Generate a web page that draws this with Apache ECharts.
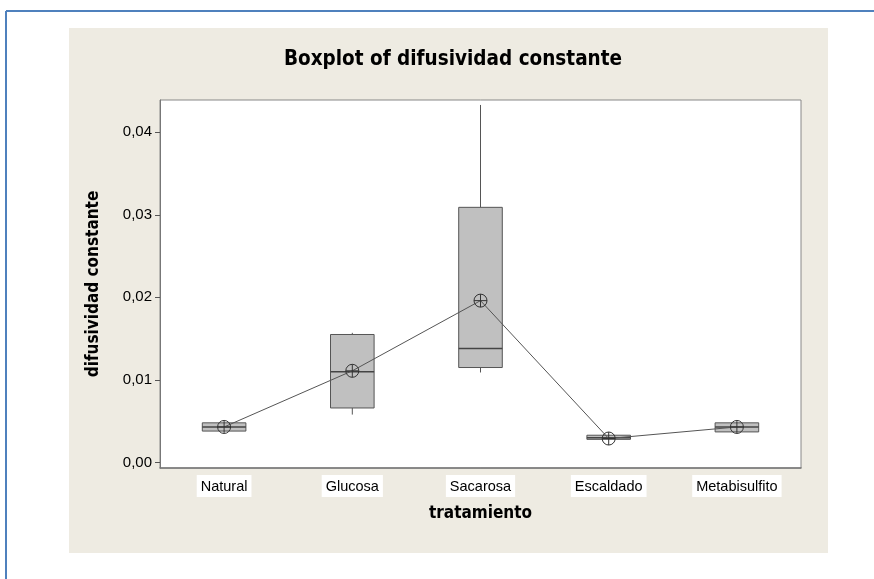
<!DOCTYPE html>
<html>
<head>
<meta charset="utf-8">
<script src="https://cdn.jsdelivr.net/npm/echarts@6/dist/echarts.min.js"></script>
<style>
html,body{margin:0;padding:0;background:#fff;}
#c{width:874px;height:579px;}
</style>
</head>
<body>
<div id="c"></div>
<script>
var categories = ['Natural', 'Glucosa', 'Sacarosa', 'Escaldado', 'Metabisulfito'];
var whiskerLow  = [0.0038, 0.0058, 0.0109, 0.0028, 0.0037];
var q1          = [0.0038, 0.0066, 0.0115, 0.0028, 0.0037];
var medians     = [0.0043, 0.0110, 0.0138, 0.0030, 0.0043];
var q3          = [0.0048, 0.0155, 0.0309, 0.0033, 0.0048];
var whiskerHigh = [0.0048, 0.0157, 0.0433, 0.0033, 0.0048];
var means       = [0.0043, 0.0111, 0.0196, 0.0029, 0.0043];
var yTicks      = [0, 0.01, 0.02, 0.03, 0.04];

var boxData = categories.map(function (c, i) {
  return [i, whiskerLow[i], q1[i], medians[i], q3[i], whiskerHigh[i]];
});

var chart = echarts.init(document.getElementById('c'));
var fmt = function (v) { return v.toFixed(2).replace('.', ','); };
var lineCol = '#555';
var condFont = '"Liberation Sans Narrow", "DejaVu Sans Condensed", sans-serif';

chart.setOption({
  animation: false,
  backgroundColor: '#ffffff',
  graphic: [
    { type: 'rect', z: -10, shape: { x: 69, y: 28, width: 759, height: 525 }, style: { fill: '#EEEBE2' } },
    { type: 'line', z: 10, shape: { x1: 6, y1: 11, x2: 874, y2: 11 }, style: { stroke: '#4F81BD', lineWidth: 2 } },
    { type: 'line', z: 10, shape: { x1: 6, y1: 11, x2: 6, y2: 579 }, style: { stroke: '#4F81BD', lineWidth: 2 } },
    { type: 'text', z: 10, x: 453, y: 60, style: { text: 'Boxplot of difusividad constante', fill: '#000', font: 'bold 20.5px ' + condFont, align: 'center', verticalAlign: 'middle' } }
  ],
  grid: { left: 160, right: 874 - 801, top: 100, bottom: 579 - 468, show: true, backgroundColor: '#fff', borderColor: '#888', borderWidth: 1 },
  xAxis: {
    type: 'category',
    data: categories,
    name: 'tratamiento',
    nameLocation: 'middle',
    nameGap: 37,
    nameTextStyle: { fontFamily: condFont, fontWeight: 'bold', fontSize: 17, color: '#000' },
    axisLine: { onZero: false, lineStyle: { color: '#777', width: 1.5 } },
    axisTick: { alignWithLabel: true, length: 5, lineStyle: { color: '#555' } },
    axisLabel: { color: '#000', fontFamily: '"Liberation Sans", Arial, sans-serif', fontSize: 14.5, backgroundColor: '#fff', padding: [4, 4, 3, 4], margin: 7 },
    splitLine: { show: false }
  },
  yAxis: {
    type: 'value',
    min: -0.00067,
    max: 0.0439,
    name: 'difusividad constante',
    nameLocation: 'middle',
    nameGap: 58,
    nameTextStyle: { fontFamily: condFont, fontWeight: 'bold', fontSize: 17, color: '#000' },
    axisLine: { show: true, lineStyle: { color: '#777', width: 1 } },
    axisTick: { show: true, length: 5, customValues: yTicks, lineStyle: { color: '#555' } },
    axisLabel: { color: '#000', fontFamily: '"Liberation Sans", Arial, sans-serif', fontSize: 15, customValues: yTicks, formatter: fmt, margin: 8 },
    splitLine: { show: false }
  },
  series: [
    {
      type: 'custom',
      data: boxData,
      z: 2,
      renderItem: function (params, api) {
        var idx = api.value(0);
        var pLow = api.coord([idx, api.value(1)]);
        var pQ1 = api.coord([idx, api.value(2)]);
        var pMed = api.coord([idx, api.value(3)]);
        var pQ3 = api.coord([idx, api.value(4)]);
        var pHigh = api.coord([idx, api.value(5)]);
        var w = api.size([1, 0])[0] * 0.34;
        var x0 = pQ1[0] - w / 2;
        var st = { stroke: lineCol, lineWidth: 1 };
        return {
          type: 'group',
          children: [
            { type: 'line', shape: { x1: pQ3[0], y1: pQ3[1], x2: pHigh[0], y2: pHigh[1] }, style: st },
            { type: 'line', shape: { x1: pQ1[0], y1: pQ1[1], x2: pLow[0], y2: pLow[1] }, style: st },
            { type: 'rect', shape: { x: x0, y: pQ3[1], width: w, height: pQ1[1] - pQ3[1] }, style: { fill: '#C0C0C0', stroke: lineCol, lineWidth: 1 } },
            { type: 'line', shape: { x1: x0, y1: pMed[1], x2: x0 + w, y2: pMed[1] }, style: { stroke: '#444', lineWidth: 1.5 } }
          ]
        };
      }
    },
    {
      type: 'line',
      data: means,
      z: 5,
      symbol: 'path://M10,0 A10,10 0 1,1 9.99,0 Z M10,0 L10,20 M0,10 L20,10',
      symbolSize: 13,
      itemStyle: { color: 'rgba(0,0,0,0)', borderColor: '#333', borderWidth: 1 },
      lineStyle: { color: '#555', width: 1 }
    }
  ]
});
</script>
</body>
</html>
